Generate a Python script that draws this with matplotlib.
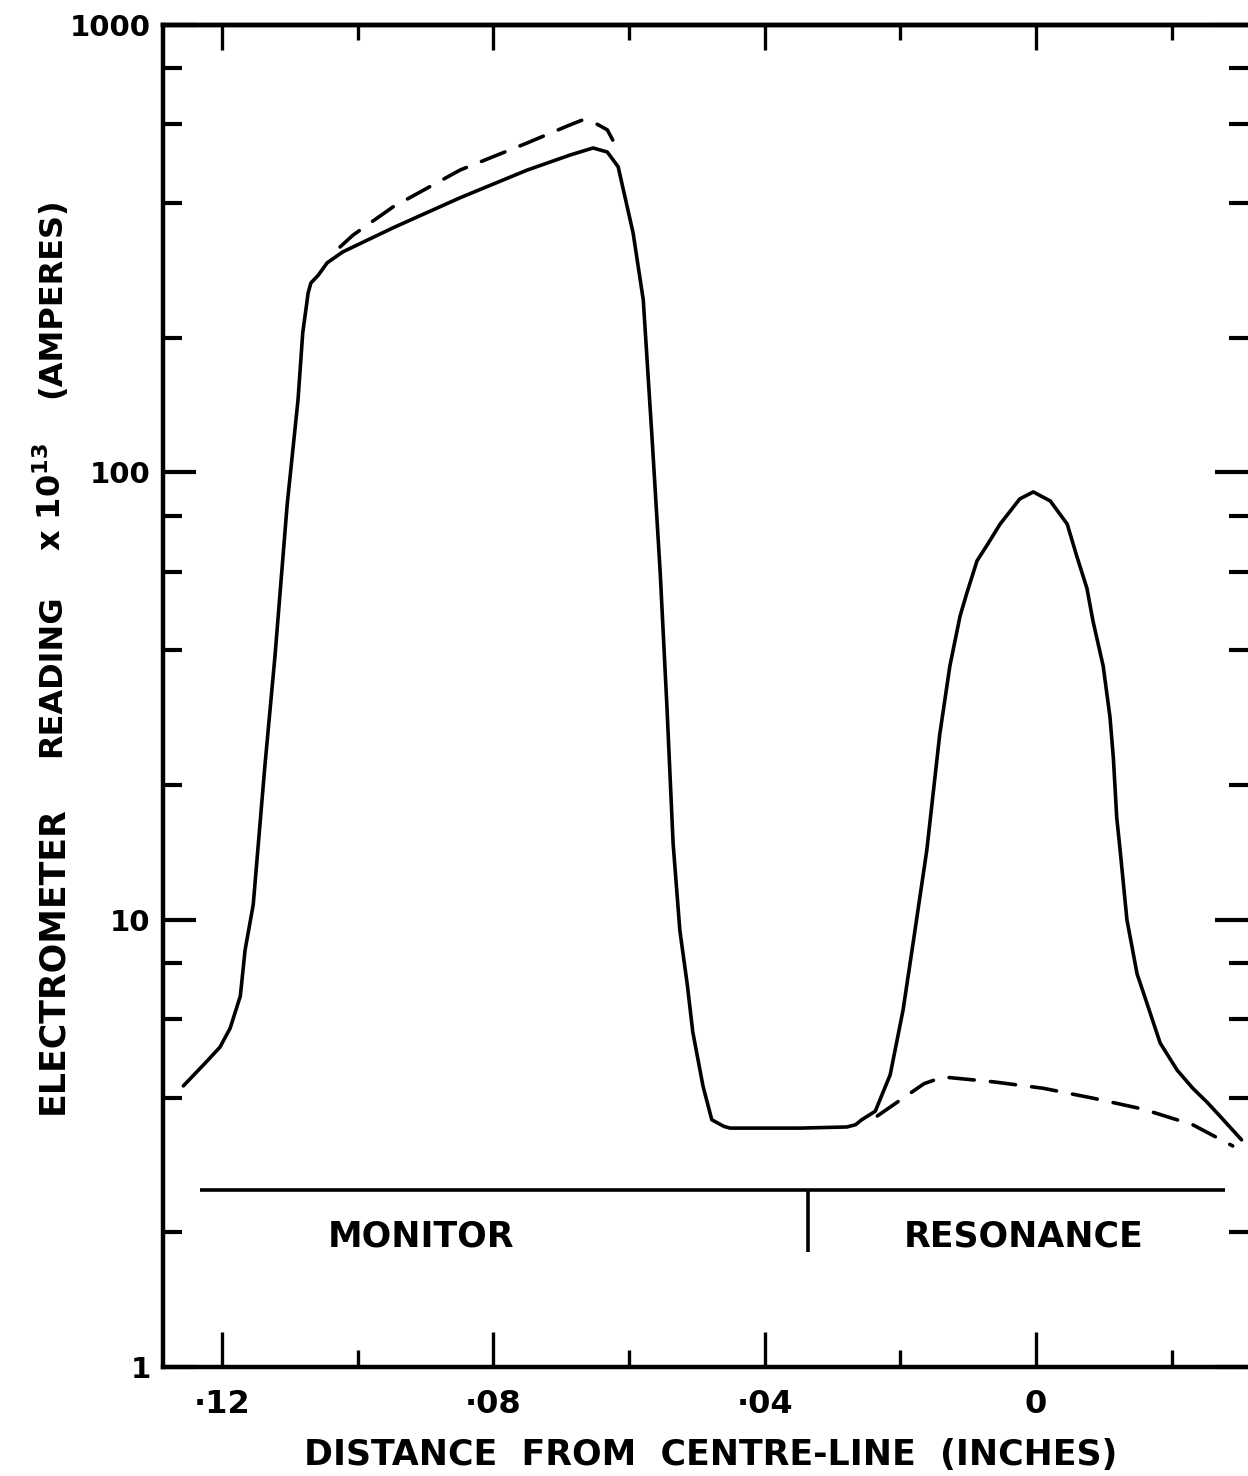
import matplotlib
matplotlib.use("Agg")
import matplotlib.pyplot as plt
from matplotlib.ticker import NullFormatter

# ---------------- data ----------------
# Solid curve: electrometer reading vs distance from centre-line (inches)
solid_x = [0.1257, 0.1222, 0.1203, 0.1188, 0.1173, 0.1166, 0.1154, 0.1137, 0.1122,
           0.1104, 0.1088, 0.1081, 0.1073, 0.1069, 0.1058, 0.1045, 0.1022,
           0.0948, 0.0849, 0.0750, 0.0687, 0.0653, 0.0632, 0.0616, 0.0594, 0.0579,
           0.0566, 0.0554, 0.0544, 0.0535, 0.0525, 0.0514, 0.0506, 0.0491, 0.0478,
           0.0460, 0.0451, 0.0348, 0.0279, 0.0266, 0.0257, 0.0237, 0.0215, 0.0196,
           0.0181, 0.0161, 0.0142, 0.0127, 0.0112, 0.0102, 0.0087, 0.0072, 0.0053,
           0.0024, 0.0004, -0.0021, -0.0046, -0.0060, -0.0075, -0.0084, -0.0099,
           -0.0109, -0.0114, -0.0119, -0.0124, -0.0134, -0.0149, -0.0158, -0.0183,
           -0.0208, -0.0231, -0.0252, -0.0271, -0.0303]
solid_y = [4.25, 4.83, 5.19, 5.72, 6.75, 8.55, 10.8, 21.9, 38.7,
           84.5, 145, 205, 252, 265, 276, 294, 311,
           352, 411, 474, 512, 531, 520, 482, 343, 243,
           119, 59.6, 29.7, 14.8, 9.44, 7.14, 5.61, 4.25, 3.57,
           3.45, 3.42, 3.42, 3.44, 3.48, 3.57, 3.73, 4.50, 6.28,
           8.91, 14.3, 25.9, 36.9, 47.7, 53.7, 63.4, 68.8, 76.6,
           87.2, 90.4, 86.3, 76.6, 65.0, 55.1, 46.5, 36.9,
           28.4, 23.0, 16.9, 14.3, 10.0, 7.56, 6.89, 5.30,
           4.61, 4.20, 3.91, 3.64, 3.22]

# Dashed curve over the monitor plateau
dash1_x = [0.1026, 0.1007, 0.0948, 0.0849, 0.0750, 0.0687, 0.0669, 0.0653, 0.0632, 0.0624]
dash1_y = [319, 339, 392, 474, 545, 598, 613, 607, 583, 553]

# Dashed background curve under the resonance peak
dash2_x = [0.0234, 0.0196, 0.0165, 0.0137, 0.0063, -0.0010, -0.0084, -0.0158, -0.0231, -0.0290]
dash2_y = [3.64, 3.99, 4.30, 4.45, 4.34, 4.20, 3.99, 3.77, 3.48, 3.12]

x_major = [0.12, 0.08, 0.04, 0.0]
x_major_labels = ["\u00b712", "\u00b708", "\u00b704", "0"]
x_minor = [0.10, 0.06, 0.02, -0.02]
y_major = [1, 10, 100, 1000]
y_major_labels = ["1", "10", "100", "1000"]
y_minor = [2, 4, 6, 8, 20, 40, 60, 80, 200, 400, 600, 800]

region_labels = ["MONITOR", "RESONANCE"]

# ---------------- figure ----------------
W, H = 1248, 1476
fig = plt.figure(figsize=(W / 100, H / 100), dpi=100)
L, R, B, T = 163, 1248, 1367, 25
ax = fig.add_axes([L / W, 1 - B / H, (R - L) / W, (B - T) / H])

FONT = "DejaVu Sans"
LW_AX = 3.2
LW_CURVE = 2.6

ax.set_yscale("log")
ax.set_xlim(0.1287, -0.03125)
ax.set_ylim(1, 1000)

ax.plot(solid_x, solid_y, color="black", lw=LW_CURVE, solid_joinstyle="round",
        solid_capstyle="round")
ax.plot(dash1_x, dash1_y, color="black", lw=LW_CURVE, linestyle=(0, (7, 4.5)),
        dash_capstyle="round", dash_joinstyle="round")
ax.plot(dash2_x, dash2_y, color="black", lw=LW_CURVE, linestyle=(0, (7, 4.5)),
        dash_capstyle="round", dash_joinstyle="round")

# Region bar with separator
BAR_Y = 2.488
BAR_X0, BAR_X1 = 0.1232, -0.0279
SPLIT_X, SPLIT_Y0 = 0.0336, 1.807
ax.plot([BAR_X0, BAR_X1], [BAR_Y, BAR_Y], color="black", lw=2.6, solid_capstyle="butt")
ax.plot([SPLIT_X, SPLIT_X], [BAR_Y, SPLIT_Y0], color="black", lw=2.6, solid_capstyle="butt")
ax.text(0.0907, 1.953, region_labels[0], ha="center", va="center", fontsize=25,
        fontweight="bold", family=FONT)
ax.text(0.0018, 1.953, region_labels[1], ha="center", va="center", fontsize=25,
        fontweight="bold", family=FONT)

# spines
for s in ["left", "bottom", "top"]:
    ax.spines[s].set_linewidth(LW_AX)
ax.spines["right"].set_visible(False)

# x ticks
ax.set_xticks(x_major, labels=x_major_labels)
ax.set_xticks(x_minor, minor=True)
ax.tick_params(axis="x", which="major", direction="in", length=25, width=2.4,
               top=False, bottom=True, pad=16, labelsize=23)
ax.tick_params(axis="x", which="minor", direction="in", length=12, width=2.4,
               top=False, bottom=True)

# y ticks
ax.set_yticks(y_major, labels=y_major_labels)
ax.set_yticks(y_minor, minor=True)
ax.yaxis.set_minor_formatter(NullFormatter())
ax.tick_params(axis="y", which="major", direction="in", length=24, width=3,
               left=True, right=True, pad=9, labelsize=21)
ax.tick_params(axis="y", which="minor", direction="in", length=14, width=3,
               left=True, right=True)
for lab in ax.get_xticklabels() + ax.get_yticklabels():
    lab.set_fontfamily(FONT)
    lab.set_fontweight("bold")

# top ticks (different lengths)
sec = ax.secondary_xaxis("top")
sec.set_xticks(x_major, labels=[""] * len(x_major))
sec.set_xticks(x_minor, minor=True)
sec.tick_params(axis="x", which="major", direction="in", length=18, width=2.4)
sec.tick_params(axis="x", which="minor", direction="in", length=11, width=2.4)
sec.spines["top"].set_linewidth(LW_AX)

# axis labels
fig.text(711 / W, 1 - 1455 / H, "DISTANCE  FROM  CENTRE-LINE  (INCHES)",
         ha="center", va="center", fontsize=25, fontweight="bold", family=FONT)

ylab_x = 52 / W
fig.text(ylab_x, 1 - 960 / H, "ELECTROMETER", rotation=90, ha="center", va="center",
         fontsize=25, fontweight="bold", family=FONT)
fig.text(ylab_x, 1 - 676 / H, "READING", rotation=90, ha="center", va="center",
         fontsize=23, fontweight="bold", family=FONT)
fig.text(ylab_x, 1 - 497 / H, r"x 10$^{\mathbf{13}}$", rotation=90, ha="center",
         va="center", fontsize=23, fontweight="bold", family=FONT)
fig.text(ylab_x, 1 - 298 / H, "(AMPERES)", rotation=90, ha="center", va="center",
         fontsize=23, fontweight="bold", family=FONT)

fig.savefig("out.png", dpi=100)
